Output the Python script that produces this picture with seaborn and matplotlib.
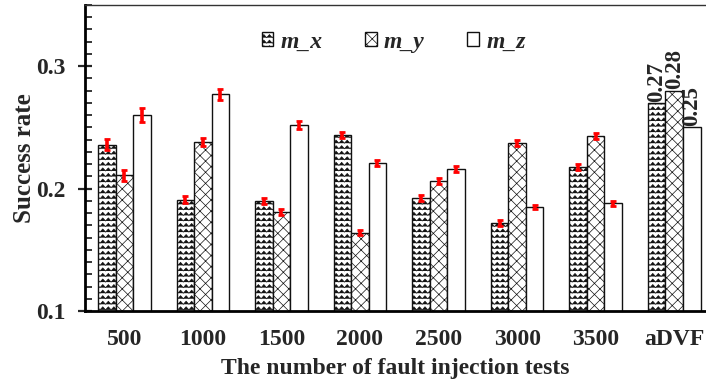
import warnings
import numpy as np
import pandas as pd
import matplotlib
matplotlib.use("Agg")
import matplotlib.pyplot as plt
import matplotlib.hatch as mhatch
from matplotlib.path import Path
from matplotlib.ticker import MultipleLocator, FormatStrFormatter
import seaborn as sns

warnings.filterwarnings("ignore")

# ---- data -------------------------------------------------------------
categories = ["500", "1000", "1500", "2000", "2500", "3000", "3500", "aDVF"]
series = ["m_x", "m_y", "m_z"]
m_x = [0.236, 0.191, 0.190, 0.244, 0.192, 0.172, 0.218, 0.27]
m_y = [0.211, 0.238, 0.181, 0.164, 0.206, 0.237, 0.243, 0.28]
m_z = [0.260, 0.277, 0.252, 0.221, 0.216, 0.185, 0.188, 0.25]
# error half-widths for the fault-injection runs (aDVF has none)
err_x = [0.0045, 0.0030, 0.0025, 0.0025, 0.0025, 0.0025, 0.0025]
err_y = [0.0045, 0.0035, 0.0025, 0.0020, 0.0025, 0.0025, 0.0025]
err_z = [0.0055, 0.0045, 0.0035, 0.0025, 0.0025, 0.0015, 0.0020]
labelled_category = "aDVF"


# ---- zig-zag hatch ('z') ----------------------------------------------
class ZigZagHatch(mhatch.HatchPatternBase):
    def __init__(self, hatch, density):
        self.num_rows = int(hatch.count("z") * density)
        self.periods = 18
        self.n = 2 * self.periods + 1
        self.num_vertices = self.num_rows * self.n

    def set_vertices_and_codes(self, vertices, codes):
        n = self.n
        xs = np.linspace(0.0, 1.0, n)
        amp = 0.55 / max(self.num_rows, 1)
        offs = np.where(np.arange(n) % 2 == 0, -amp / 2, amp / 2)
        for i in range(self.num_rows):
            y = (i + 0.5) / self.num_rows
            vertices[i * n:(i + 1) * n, 0] = xs
            vertices[i * n:(i + 1) * n, 1] = y + offs
            codes[i * n] = Path.MOVETO
            codes[i * n + 1:(i + 1) * n] = Path.LINETO


mhatch._hatch_types.append(ZigZagHatch)

# ---- style ------------------------------------------------------------
sns.set_style("ticks")
plt.rcParams["font.family"] = ["Liberation Serif", "DejaVu Serif"]
plt.rcParams["font.weight"] = "bold"
plt.rcParams["hatch.linewidth"] = 0.5

df = pd.DataFrame({
    "category": np.repeat(categories, len(series)),
    "series": series * len(categories),
    "value": np.ravel(np.column_stack([m_x, m_y, m_z])),
})

fig = plt.figure(figsize=(7.06, 3.85), dpi=100)
ax = fig.add_axes([85 / 706, 1 - 311 / 385, 621 / 706, 306 / 385])

sns.barplot(data=df, x="category", y="value", hue="series",
            order=categories, hue_order=series,
            palette=["white"] * 3, edgecolor="#111111", linewidth=1.0,
            width=0.67, errorbar=None, legend=False, ax=ax)

hatches = ["zzz", "xxx", ""]
errors = [err_x, err_y, err_z]
for cont, hatch, err in zip(ax.containers, hatches, errors):
    for p in cont.patches:
        p.set_hatch(hatch)
    xs = [p.get_x() + p.get_width() / 2 for p in cont.patches[:len(err)]]
    ys = [p.get_height() for p in cont.patches[:len(err)]]
    ax.errorbar(xs, ys, yerr=err, fmt="none", ecolor="red",
                elinewidth=2.6, capsize=2.2, capthick=2.0, zorder=5)

# value labels on the aDVF group
idx = categories.index(labelled_category)
for cont, vals in zip(ax.containers, [m_x, m_y, m_z]):
    labels = [f"{v:.2f}" if i == idx else "" for i, v in enumerate(vals)]
    ax.bar_label(cont, labels=labels, rotation=90, padding=1,
                 fontsize=16.5, fontweight="bold")

ax.set_xlim(-0.5, 7.405)
ax.set_ylim(0.1, 0.35)
ax.yaxis.set_major_locator(MultipleLocator(0.1))
ax.yaxis.set_minor_locator(MultipleLocator(0.01))
ax.yaxis.set_major_formatter(FormatStrFormatter("%.1f"))

ax.tick_params(axis="y", which="major", direction="inout", length=10,
               width=1.6, pad=9, labelsize=17)
ax.tick_params(axis="y", which="minor", direction="in", length=5, width=1.3)
ax.tick_params(axis="x", which="both", length=0, pad=13, labelsize=17)

ax.set_xlabel("The number of fault injection tests", fontsize=17,
              fontweight="bold", labelpad=6)
ax.set_ylabel("Success rate", fontsize=18, fontweight="bold", labelpad=0)

for side in ["left", "bottom"]:
    ax.spines[side].set_linewidth(2.0)
    ax.spines[side].set_color("black")
ax.spines["top"].set_linewidth(1.0)
ax.spines["top"].set_color("#333333")
ax.spines["right"].set_visible(False)

ax.legend(handles=ax.containers, labels=series, ncol=3, frameon=False,
          loc="center", bbox_to_anchor=(0.497, 0.879),
          prop={"family": "Liberation Serif", "weight": "bold",
                "style": "italic", "size": 17},
          handlelength=0.5, handleheight=0.5, handletextpad=0.3,
          columnspacing=1.8)

fig.savefig("out.png", dpi=100)
